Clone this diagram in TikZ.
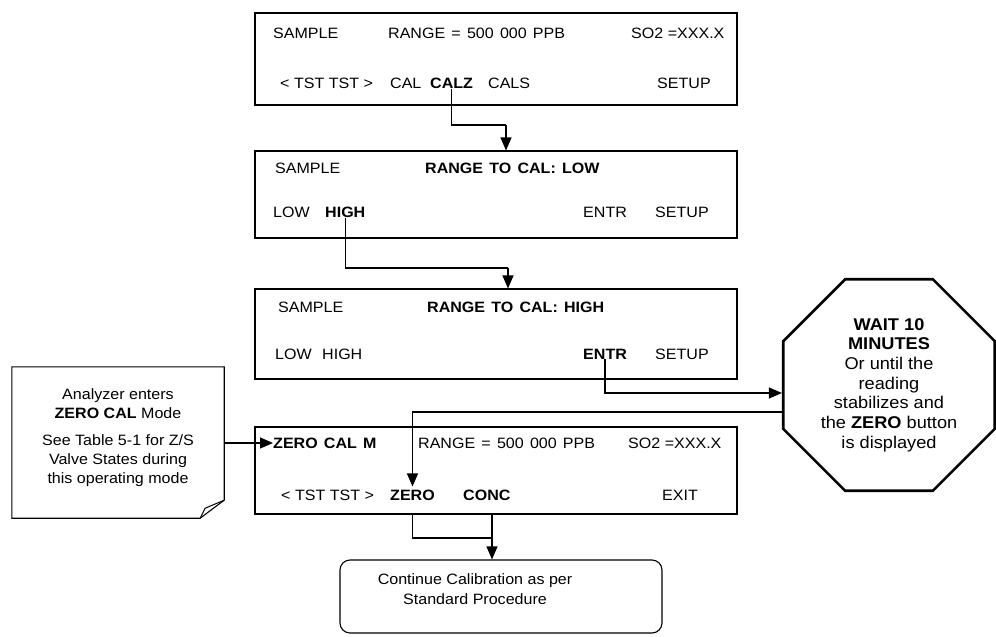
\documentclass[tikz,border=0pt]{standalone}
\usepackage{fontspec}
\setmainfont{Liberation Sans}[FakeStretch=1.07]
\usetikzlibrary{arrows.meta,shapes.geometric}
\newcommand\widesp{\spaceskip=6.2pt\relax}

\begin{document}
\begin{tikzpicture}[x=1pt,y=-1pt,every node/.style={font=\fontsize{15}{18}\selectfont,inner sep=0pt},
    screen/.style={draw,line width=1.1pt,minimum width=482pt},
    key/.style={anchor=west,font=\fontsize{15}{18}\selectfont\widesp},
    tight/.style={font=\fontsize{15}{18}\selectfont},
    link/.style={line width=1.2pt},
    tip/.style={-{Triangle[width=11pt,length=13pt]}}]
        \useasboundingbox (0,0) rectangle (996,637);
        \node[screen,minimum height=92pt] (s1) at (496,59) {};
        \node[key] (s1a) at (273,33) {SAMPLE};
        \node[key] (s1b) at (388,33) {RANGE = 500 000 PPB};
        \node[key,tight] (s1c) at (631,33) {SO2 =XXX.X};
        \node[key,tight] (s1d) at (280,83) {< TST TST >};
        \node[key] (s1e) at (390,83) {CAL};
        \node[key] (calz) at (430,83) {\textbf{CALZ}};
        \node[key] (s1f) at (488,83) {CALS};
        \node[key] (s1g) at (657,83) {SETUP};
        \node[screen,minimum height=87pt] (s2) at (496,194.5) {};
        \node[key] (s2a) at (275,168) {SAMPLE};
        \node[key] (s2b) at (425,168) {\textbf{RANGE TO CAL: LOW}};
        \node[key] (s2c) at (273,212) {LOW};
        \node[key] (high) at (325,212) {\textbf{HIGH}};
        \node[key] (s2d) at (583,212) {ENTR};
        \node[key] (s2e) at (655,212) {SETUP};
        \node[screen,minimum height=90pt] (s3) at (496,334) {};
        \node[key] (s3a) at (278,307) {SAMPLE};
        \node[key] (s3b) at (427,307) {\textbf{RANGE TO CAL: HIGH}};
        \node[key] (s3c) at (275,354) {LOW};
        \node[key] (s3d) at (322,354) {HIGH};
        \node[key] (entr) at (583,354) {\textbf{ENTR}};
        \node[key] (s3e) at (655,354) {SETUP};
        \node[screen,minimum height=87pt] (s4) at (496,470.5) {};
        \node[key] (zcm) at (273,443) {\textbf{ZERO CAL M}};
        \node[key] (s4a) at (418,443) {RANGE = 500 000 PPB};
        \node[key,tight] (s4b) at (628,443) {SO2 =XXX.X};
        \node[key,tight] (s4c) at (281,495) {< TST TST >};
        \node[key] (zero) at (390,495) {\textbf{ZERO}};
        \node[key] (conc) at (463,495) {\textbf{CONC}};
        \node[key] (s4d) at (662,495) {EXIT};
        \node[minimum width=212pt,minimum height=151pt] (note) at (118,442.5) {};
        \node[align=center,font=\fontsize{15}{18.6}\selectfont] (notetext) at (118,437.5)
            {Analyzer enters\\\textbf{ZERO CAL} Mode\\[9pt]See Table 5-1 for Z/S\\Valve States during\\this operating mode};
        \draw[line width=1.1pt] (note.north west) -- (note.north east) -- ([yshift=18pt]note.south east)
            -- ([xshift=-24pt]note.south east) -- (note.south west) -- cycle;
        \draw[line width=1pt] ([yshift=18pt]note.south east) -- ([xshift=-19pt,yshift=10pt]note.south east)
            -- ([xshift=-24pt]note.south east);
        \node[draw,regular polygon,regular polygon sides=8,minimum size=229pt,line width=2.6pt,align=center,
            font=\fontsize{17}{19.7}\selectfont] (wait) at (889,385)
            {\textbf{WAIT 10}\\\textbf{MINUTES}\\Or until the\\reading\\stabilizes and\\the \textbf{ZERO} button\\is displayed};
        \node[draw,line width=1.1pt,rounded corners=10pt,minimum width=322pt,minimum height=73pt] (cont) at (501,596.5) {};
        \node[align=center,font=\fontsize{15}{20}\selectfont] (conttext) at (475,589) {Continue Calibration as per\\Standard Procedure};
        \coordinate (k1) at (506,125);
        \coordinate (k2) at (508,268);
        \coordinate (k3) at (492,538);
        \coordinate (waitin) at ([yshift=-8pt]wait.west);
        \coordinate (waitout) at ([yshift=-27pt]wait.west);
        \draw[link] (calz.south) |- (k1);
        \draw[link,tip] (k1) -- (k1 |- s2.north);
        \draw[link] (high.south) |- (k2);
        \draw[link,tip] (k2) -- (k2 |- s3.north);
        \draw[link,tip] (entr.south) |- (waitin);
        \draw[link,tip,shorten >=3pt] (waitout) -| (zero.north);
        \draw[link,tip] (note.east |- zcm.west) -- (zcm.west);
        \draw[link] (zero.south |- s4.south) |- (k3);
        \draw[link,tip] (k3 |- s4.south) -- (k3 |- cont.north);
      \end{tikzpicture}
\end{document}
